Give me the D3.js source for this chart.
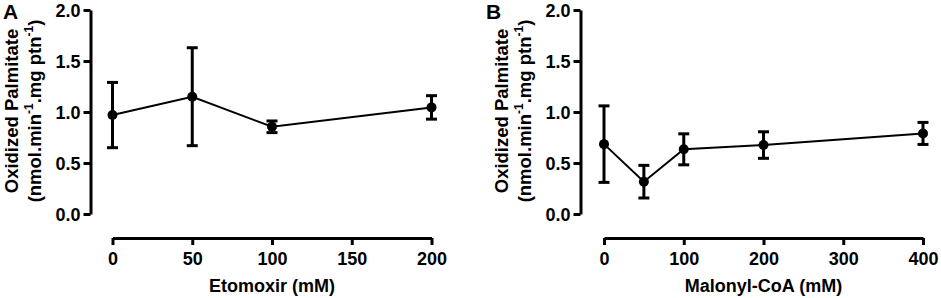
<!DOCTYPE html>
<html>
<head>
<meta charset="utf-8">
<script src="https://cdn.jsdelivr.net/npm/d3@7"></script>
<style>
  html, body { margin: 0; padding: 0; background: #fff; }
  svg { display: block; font-family: "Liberation Sans", Arial, sans-serif; }
</style>
</head>
<body>
<svg width="941" height="298"></svg>
<script>
// values (mean and error bar half-width)
const etomoxirDose = [0, 50, 100, 200]
const etomoxirMean = [0.97, 1.15, 0.855, 1.045]
const etomoxirErr = [0.32, 0.48, 0.057, 0.115]

const malonylDose = [0, 50, 100, 200, 400]
const malonylMean = [0.685, 0.317, 0.634, 0.676, 0.79]
const malonylErr = [0.375, 0.16, 0.152, 0.13, 0.108]

const yTicks = [0, 0.5, 1.0, 1.5, 2.0]
const xTicksA = [0, 50, 100, 150, 200]
const xTicksB = [0, 100, 200, 300, 400]

const svg = d3.select('svg')

const drawPanel = (opt) => {
  const g = svg.append('g')
  const x = d3.scaleLinear().domain(opt.xDomain).range(opt.xRange)
  const y = d3.scaleLinear().domain([0, 2]).range([214, 10])

  // y axis
  const yAxis = g.append('g')
    .attr('transform', `translate(${opt.yAxisX},0)`)
    .call(d3.axisLeft(y).tickValues(yTicks).tickFormat(d3.format('.1f'))
      .tickSize(7).tickSizeOuter(0).tickPadding(3))
  // x axis
  const xAxis = g.append('g')
    .attr('transform', 'translate(0,238)')
    .call(d3.axisBottom(x).tickValues(opt.xTicks)
      .tickSize(7).tickSizeOuter(0).tickPadding(6))

  for (const ax of [yAxis, xAxis]) {
    ax.select('.domain').attr('stroke', '#000').attr('stroke-width', 3)
    ax.selectAll('.tick line').attr('stroke', '#000').attr('stroke-width', 3)
    ax.selectAll('.tick text')
      .attr('fill', '#000')
      .attr('font-family', '"Liberation Sans", Arial, sans-serif')
      .attr('font-size', 18)
      .attr('font-weight', 'bold')
  }
  yAxis.selectAll('.tick text').attr('dy', '0.36em')
  xAxis.selectAll('.tick text').attr('dy', '0.75em')

  // panel letter
  g.append('text')
    .attr('x', opt.letterX).attr('y', 19)
    .attr('font-size', 21).attr('font-weight', 'bold')
    .text(opt.letter)

  // y title (two lines)
  const yc = 111
  g.append('text')
    .attr('transform', `translate(${opt.yAxisX - 73},${yc}) rotate(-90)`)
    .attr('text-anchor', 'middle')
    .attr('font-size', 18.5).attr('font-weight', 'bold')
    .text('Oxidized Palmitate')
  const t2 = g.append('text')
    .attr('transform', `translate(${opt.yAxisX - 50},${yc}) rotate(-90)`)
    .attr('text-anchor', 'middle')
    .attr('font-size', 18.5).attr('font-weight', 'bold')
  t2.append('tspan').text('(nmol.min')
  t2.append('tspan').attr('font-size', 12).attr('dy', -8).text('-1')
  t2.append('tspan').attr('dy', 8).text('.mg ptn')
  t2.append('tspan').attr('font-size', 12).attr('dy', -8).text('-1')
  t2.append('tspan').attr('dy', 8).text(')')

  // x title
  g.append('text')
    .attr('x', (opt.xRange[0] + opt.xRange[1]) / 2).attr('y', 292)
    .attr('text-anchor', 'middle')
    .attr('font-size', 18).attr('font-weight', 'bold')
    .text(opt.xTitle)

  const pts = opt.dose.map((d, i) => ({ d, m: opt.mean[i], e: opt.err[i] }))

  // connecting line
  g.append('path')
    .datum(pts)
    .attr('fill', 'none')
    .attr('stroke', '#000')
    .attr('stroke-width', 2)
    .attr('d', d3.line().x((p) => x(p.d)).y((p) => y(p.m)))

  // error bars
  const eb = g.append('g').attr('stroke', '#000').attr('stroke-width', 3)
  eb.selectAll('line.v').data(pts).join('line').attr('class', 'v')
    .attr('x1', (p) => x(p.d)).attr('x2', (p) => x(p.d))
    .attr('y1', (p) => y(p.m + p.e)).attr('y2', (p) => y(p.m - p.e))
  eb.selectAll('line.top').data(pts).join('line').attr('class', 'top')
    .attr('x1', (p) => x(p.d) - 5.5).attr('x2', (p) => x(p.d) + 5.5)
    .attr('y1', (p) => y(p.m + p.e)).attr('y2', (p) => y(p.m + p.e))
  eb.selectAll('line.bot').data(pts).join('line').attr('class', 'bot')
    .attr('x1', (p) => x(p.d) - 5.5).attr('x2', (p) => x(p.d) + 5.5)
    .attr('y1', (p) => y(p.m - p.e)).attr('y2', (p) => y(p.m - p.e))

  // points
  g.selectAll('circle').data(pts).join('circle')
    .attr('cx', (p) => x(p.d)).attr('cy', (p) => y(p.m))
    .attr('r', 5).attr('fill', '#000')
}

drawPanel({
  letter: 'A', letterX: 3,
  yAxisX: 90.5,
  xDomain: [0, 200], xRange: [112.5, 431.5], xTicks: xTicksA,
  xTitle: 'Etomoxir (mM)',
  dose: etomoxirDose, mean: etomoxirMean, err: etomoxirErr,
})

drawPanel({
  letter: 'B', letterX: 486,
  yAxisX: 580.5,
  xDomain: [0, 400], xRange: [604, 923], xTicks: xTicksB,
  xTitle: 'Malonyl-CoA (mM)',
  dose: malonylDose, mean: malonylMean, err: malonylErr,
})
</script>
</body>
</html>
